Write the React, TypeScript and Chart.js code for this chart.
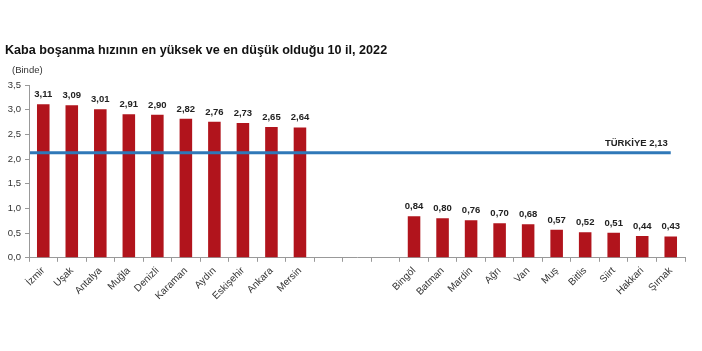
import React, { useEffect, useRef } from "react";
import { Chart, registerables } from "chart.js";

Chart.register(...registerables);

const highProvinces = ["İzmir", "Uşak", "Antalya", "Muğla", "Denizli", "Karaman", "Aydın", "Eskişehir", "Ankara", "Mersin"];
const highValues = [3.11, 3.09, 3.01, 2.91, 2.9, 2.82, 2.76, 2.73, 2.65, 2.64];
const lowProvinces = ["Bingöl", "Batman", "Mardin", "Ağrı", "Van", "Muş", "Bitlis", "Siirt", "Hakkari", "Şırnak"];
const lowValues = [0.84, 0.8, 0.76, 0.7, 0.68, 0.57, 0.52, 0.51, 0.44, 0.43];
const gapLabels = ["", "", ""];
const turkeyValue = 2.13;
const turkeyLabel = "TÜRKİYE 2,13";
const titleText = "Kaba boşanma hızının en yüksek ve en düşük olduğu 10 il, 2022";
const unitText = "(Binde)";

const labels = [...highProvinces, ...gapLabels, ...lowProvinces];
const values: (number | null)[] = [...highValues, ...gapLabels.map(() => null), ...lowValues];

const FONT = "'Liberation Sans', Arial, sans-serif";
const fmt = (v: number) => v.toFixed(2).replace(".", ",");

const overlayPlugin = {
  id: "overlay",
  afterDatasetsDraw(chart: any) {
    const { ctx, chartArea, scales } = chart;
    const x = scales.x;
    const y = scales.y;
    const meta = chart.getDatasetMeta(0);
    ctx.save();
    ctx.font = `bold 9.5px ${FONT}`;
    ctx.fillStyle = "#222";
    ctx.textAlign = "center";
    ctx.textBaseline = "bottom";
    meta.data.forEach((bar: any, i: number) => {
      const v = values[i];
      if (v == null) return;
      ctx.fillText(fmt(v), bar.x, bar.y - 5);
    });
    // Türkiye line
    const yy = y.getPixelForValue(turkeyValue);
    const xEnd = x.getPixelForValue(labels.length - 1);
    ctx.strokeStyle = "#2F78B8";
    ctx.lineWidth = 3;
    ctx.beginPath();
    ctx.moveTo(chartArea.left + 1, yy);
    ctx.lineTo(xEnd, yy);
    ctx.stroke();
    ctx.textAlign = "right";
    ctx.textBaseline = "bottom";
    ctx.fillText(turkeyLabel, xEnd - 3, yy - 5);
    // unit label
    ctx.font = `9.5px ${FONT}`;
    ctx.fillStyle = "#333";
    ctx.textAlign = "left";
    ctx.textBaseline = "middle";
    ctx.fillText(unitText, chartArea.left - 17, chartArea.top - 15);
    ctx.restore();
  },
};

export default function App() {
  const ref = useRef<HTMLCanvasElement>(null);
  useEffect(() => {
    if (!ref.current) return;
    const chart = new Chart(ref.current, {
      type: "bar",
      data: {
        labels,
        datasets: [
          {
            data: values,
            backgroundColor: "#B1141C",
            categoryPercentage: 1,
            barPercentage: 0.44,
          },
        ],
      },
      options: {
        responsive: false,
        animation: false,
        layout: { padding: { left: 5, right: 17, top: 0, bottom: 46 } },
        plugins: {
          legend: { display: false },
          tooltip: { enabled: false },
          title: {
            display: true,
            text: titleText,
            align: "start",
            color: "#111",
            font: { family: FONT, size: 12.6, weight: "bold" },
            padding: { top: 43, bottom: 27 },
          },
        },
        scales: {
          x: {
            grid: { display: true, offset: true, drawOnChartArea: false, tickLength: 4, color: "#999" },
            border: { color: "#999" },
            ticks: {
              minRotation: 45,
              maxRotation: 45,
              autoSkip: false,
              color: "#333",
              font: { family: FONT, size: 10 },
            },
          },
          y: {
            min: 0,
            max: 3.5,
            afterFit: (scale: any) => {
              scale.width = 24;
            },
            grid: { display: true, drawOnChartArea: false, tickLength: 4, color: "#999" },
            border: { color: "#999" },
            ticks: {
              stepSize: 0.5,
              padding: 4,
              color: "#333",
              font: { family: FONT, size: 9.5 },
              callback: (v: any) => Number(v).toFixed(1).replace(".", ","),
            },
          },
        },
      },
      plugins: [overlayPlugin],
    });
    return () => chart.destroy();
  }, []);
  return (
    <div style={{ position: "absolute", left: 0, top: 0, width: 702, height: 351, background: "#fff" }}>
      <canvas ref={ref} width={702} height={351} />
    </div>
  );
}
